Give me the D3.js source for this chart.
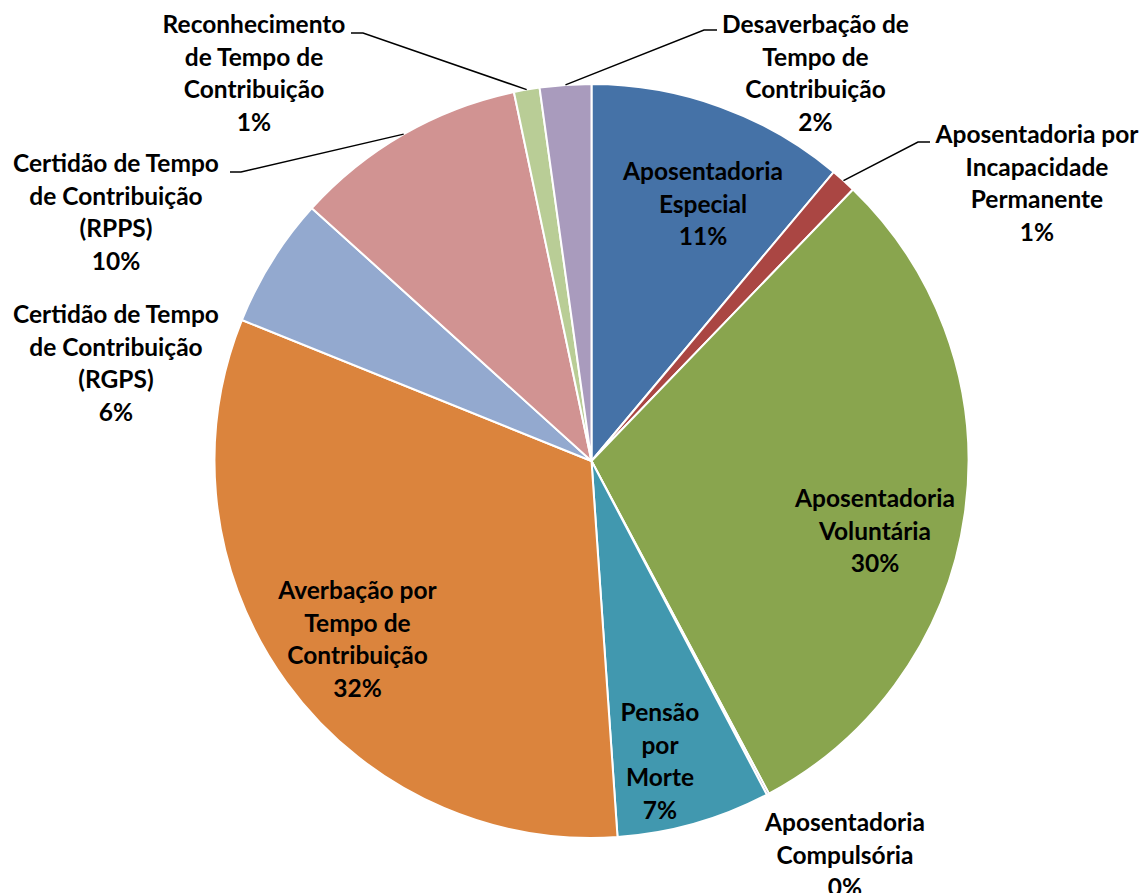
<!DOCTYPE html>
<html><head><meta charset="utf-8">
<script src="https://cdn.jsdelivr.net/npm/d3@7"></script>
<style>body{margin:0;background:#fff}svg{display:block}</style>
</head><body>
<svg id="c" width="1145" height="893"></svg>
<script>
// Data
const categories = [
  "Aposentadoria Especial",
  "Aposentadoria por Incapacidade Permanente",
  "Aposentadoria Voluntária",
  "Aposentadoria Compulsória",
  "Pensão por Morte",
  "Averbação por Tempo de Contribuição",
  "Certidão de Tempo de Contribuição (RGPS)",
  "Certidão de Tempo de Contribuição (RPPS)",
  "Reconhecimento de Tempo de Contribuição",
  "Desaverbação de Tempo de Contribuição"
];
const values = [11.1, 1.1, 30.0, 0.1, 6.6, 32.2, 5.6, 10.0, 1.1, 2.2];
const labelLines = [
  ["Aposentadoria", "Especial"],
  ["Aposentadoria por", "Incapacidade", "Permanente"],
  ["Aposentadoria", "Voluntária"],
  ["Aposentadoria", "Compulsória"],
  ["Pensão", "por", "Morte"],
  ["Averbação por", "Tempo de", "Contribuição"],
  ["Certidão de Tempo", "de Contribuição", "(RGPS)"],
  ["Certidão de Tempo", "de Contribuição", "(RPPS)"],
  ["Reconhecimento", "de Tempo de", "Contribuição"],
  ["Desaverbação de", "Tempo de", "Contribuição"]
];
const colors = ["#4572A7", "#AA4643", "#89A54E", "#80699B", "#4198AF", "#DB843D", "#93A9CF", "#D19392", "#B9CD96", "#A99BBD"];

// Layout
const W = 1145, H = 893, cx = 591.5, cy = 461, R = 377;
const lineH = 32.7;
const labelPos = [
  {x: 703, y: 180, leader: null},
  {x: 1037, y: 143, leader: [930, 142, 918]},
  {x: 875, y: 507, leader: null},
  {x: 845, y: 831, leader: null},
  {x: 660, y: 721, leader: null},
  {x: 357.5, y: 599, leader: null},
  {x: 116, y: 323, leader: null},
  {x: 116, y: 172, leader: [230, 172, 241]},
  {x: 254, y: 33, leader: [351, 33, 363]},
  {x: 815.5, y: 33, leader: [717, 30, 704]}
];

const svg = d3.select("#c");
const g = svg.append("g").attr("transform", `translate(${cx},${cy})`);
const pie = d3.pie().sort(null).value(d => d)(values);
const arc = d3.arc().innerRadius(0).outerRadius(R);
const total = d3.sum(values);

g.selectAll("path.slice").data(pie).join("path")
  .attr("class", "slice")
  .attr("d", arc)
  .attr("fill", (d, i) => colors[i])
  .attr("stroke", "#fff")
  .attr("stroke-width", 2)
  .attr("stroke-linejoin", "round");

pie.forEach((d, i) => {
  const L = labelPos[i].leader;
  if (!L) return;
  const a = (d.startAngle + d.endAngle) / 2;
  const ex = cx + R * Math.sin(a), ey = cy - R * Math.cos(a);
  svg.append("polyline")
    .attr("points", `${L[0]},${L[1]} ${L[2]},${L[1]} ${ex},${ey}`)
    .attr("fill", "none").attr("stroke", "#000").attr("stroke-width", 1.5);
});

pie.forEach((d, i) => {
  const p = labelPos[i];
  const lines = labelLines[i].concat([Math.round(values[i] / total * 100) + "%"]);
  const t = svg.append("text")
    .attr("text-anchor", "middle")
    .attr("font-family", "Lato, 'Open Sans', sans-serif")
    .attr("font-weight", 700)
    .attr("font-size", 24.5)
    .attr("fill", "#000");
  lines.forEach((ln, k) => {
    t.append("tspan").attr("x", p.x).attr("y", p.y + k * lineH).text(ln);
  });
});
</script>
</body></html>
